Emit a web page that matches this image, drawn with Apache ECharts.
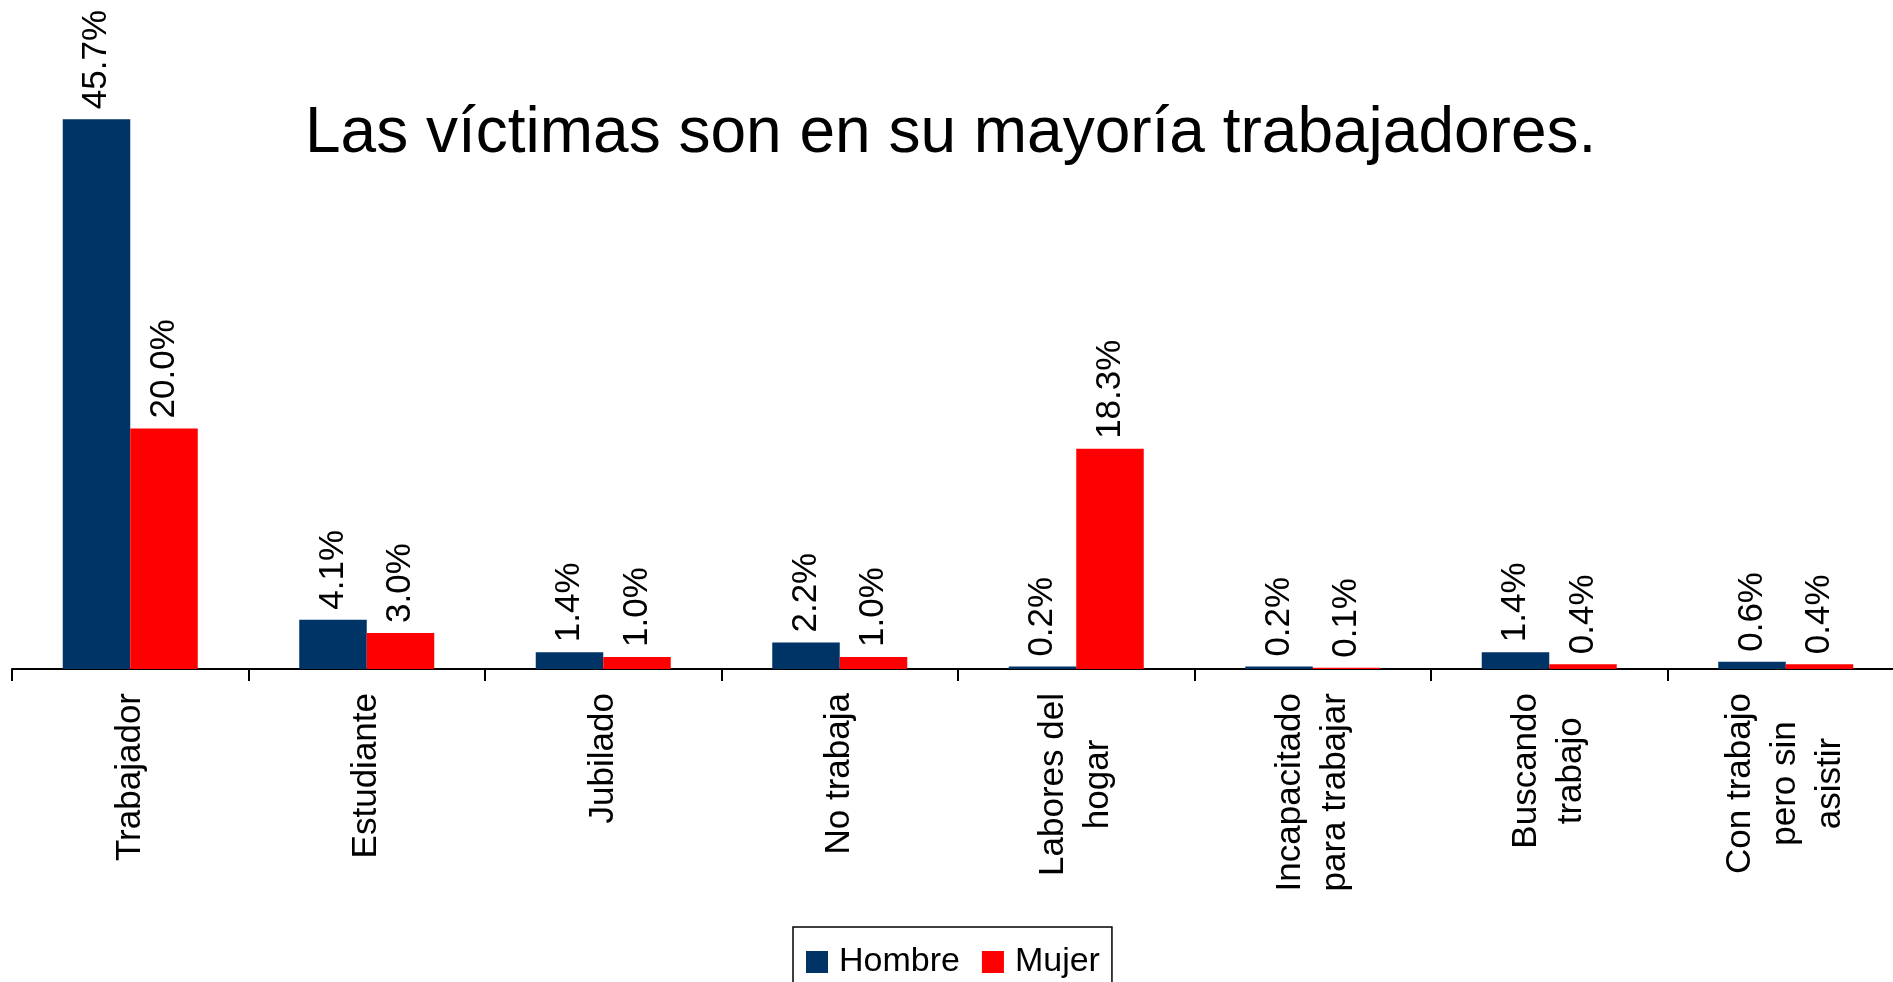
<!DOCTYPE html>
<html>
<head>
<meta charset="utf-8">
<script src="https://cdn.jsdelivr.net/npm/echarts@6/dist/echarts.min.js"></script>
<style>
  html, body { margin: 0; padding: 0; background: #fff; }
  #chart { width: 1893px; height: 982px; }
</style>
</head>
<body>
<div id="chart"></div>
<script>
var categories = ['Trabajador', 'Estudiante', 'Jubilado', 'No trabaja', 'Labores del\nhogar',
  'Incapacitado\npara trabajar', 'Buscando\ntrabajo', 'Con trabajo\npero sin\nasistir']
var hombre = [45.7, 4.1, 1.4, 2.2, 0.2, 0.2, 1.4, 0.6]
var mujer = [20.0, 3.0, 1.0, 1.0, 18.3, 0.1, 0.4, 0.4]

var font = "'Liberation Sans', Arial, sans-serif"
var chart = echarts.init(document.getElementById('chart'))

var valueLabel = {
  show: true,
  position: 'top',
  rotate: 90,
  align: 'left',
  verticalAlign: 'middle',
  distance: 10,
  color: '#000',
  fontFamily: font,
  fontSize: 35,
  formatter: function (p) { return p.value.toFixed(1) + '%' }
}

var option = {
  animation: false,
  title: {
    text: 'Las víctimas son en su mayoría trabajadores.',
    left: 300,
    top: 97,
    textStyle: { color: '#000', fontFamily: font, fontSize: 64, fontWeight: 'normal' }
  },
  legend: {
    data: ['Hombre', 'Mujer'],
    left: 793,
    top: 927,
    padding: [18, 12, 18, 13],
    itemWidth: 22,
    itemHeight: 22,
    itemGap: 22,
    borderColor: '#000',
    borderWidth: 1.5,
    icon: 'rect',
    textStyle: { color: '#000', fontFamily: font, fontSize: 34, padding: [0, 0, 0, 6] }
  },
  grid: {
    left: 12,
    width: 1892,
    top: 67.5,
    bottom: 313,
    outerBoundsMode: 'none'
  },
  xAxis: {
    type: 'category',
    data: categories,
    axisLine: { show: true, lineStyle: { color: '#000', width: 2 } },
    axisTick: { show: true, length: 12, lineStyle: { color: '#000', width: 2 } },
    axisLabel: {
      interval: 0,
      rotate: 90,
      margin: 24,
      formatter: function (v) {
        return v.split('\n').map(function (s) { return '{a|' + s + '}' }).join('\n')
      },
      rich: {
        a: { align: 'center', color: '#000', fontFamily: font, fontSize: 35, lineHeight: 45 }
      }
    }
  },
  yAxis: {
    type: 'value',
    min: 0,
    max: 50,
    show: false,
    splitLine: { show: false }
  },
  series: [
    {
      name: 'Hombre',
      type: 'bar',
      data: hombre,
      barWidth: 67.5,
      barGap: 0,
      itemStyle: { color: '#003366' },
      label: valueLabel
    },
    {
      name: 'Mujer',
      type: 'bar',
      data: mujer,
      barWidth: 67.5,
      barGap: 0,
      itemStyle: { color: '#ff0000' },
      label: valueLabel
    }
  ]
}
chart.setOption(option)
</script>
</body>
</html>
